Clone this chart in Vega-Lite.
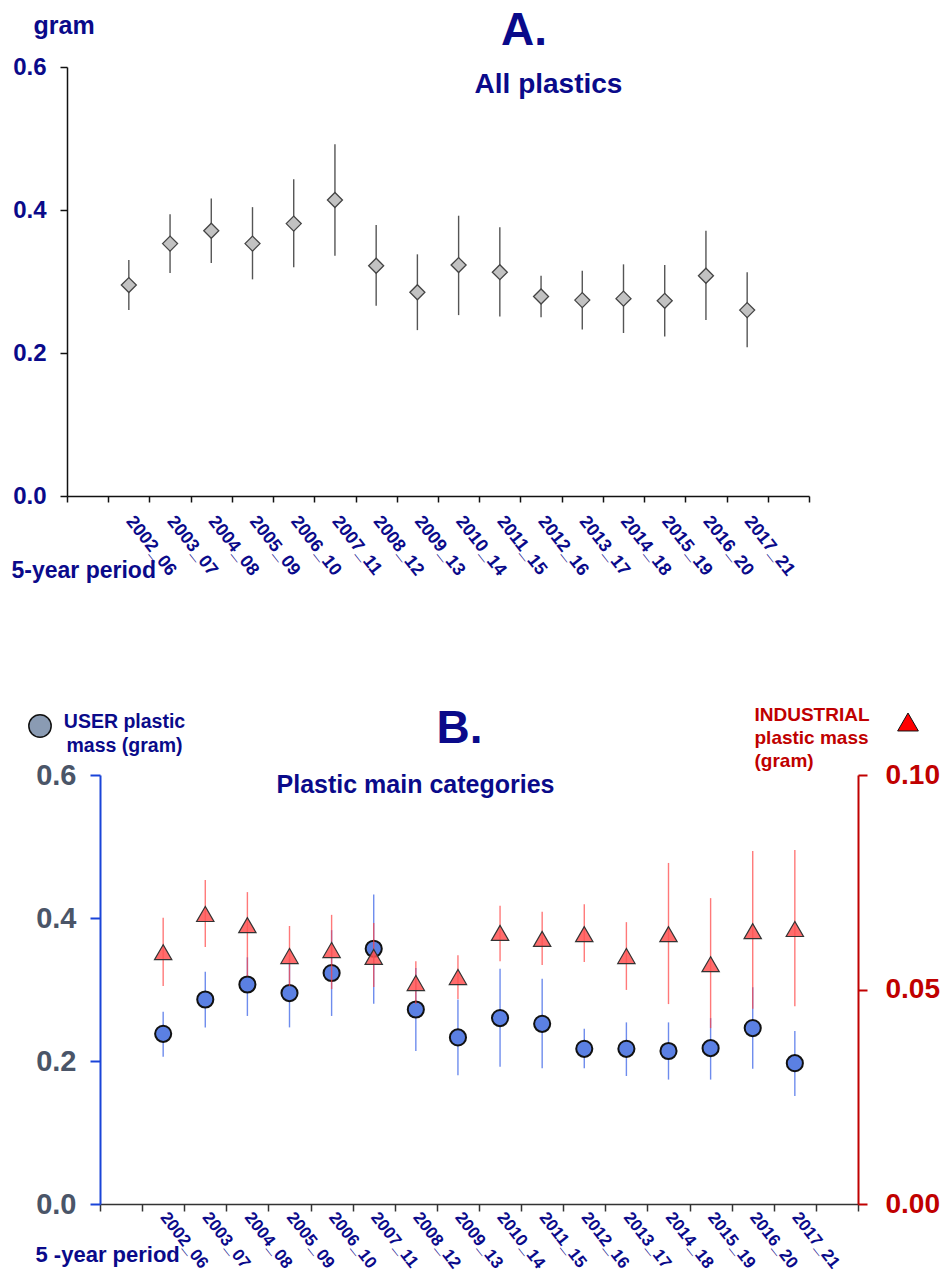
{
  "$schema": "https://vega.github.io/schema/vega-lite/v6.json",
  "padding": {"left": 11, "top": 8, "right": 5, "bottom": 5},
  "background": "white",
  "spacing": 123,
  "datasets": {
    "all": [
      {"period": "2002_06", "mean": 0.295, "lo": 0.260, "hi": 0.330},
      {"period": "2003_07", "mean": 0.353, "lo": 0.312, "hi": 0.394},
      {"period": "2004_08", "mean": 0.371, "lo": 0.326, "hi": 0.416},
      {"period": "2005_09", "mean": 0.353, "lo": 0.303, "hi": 0.404},
      {"period": "2006_10", "mean": 0.381, "lo": 0.320, "hi": 0.443},
      {"period": "2007_11", "mean": 0.414, "lo": 0.336, "hi": 0.492},
      {"period": "2008_12", "mean": 0.322, "lo": 0.266, "hi": 0.379},
      {"period": "2009_13", "mean": 0.285, "lo": 0.232, "hi": 0.338},
      {"period": "2010_14", "mean": 0.323, "lo": 0.253, "hi": 0.392},
      {"period": "2011_15", "mean": 0.313, "lo": 0.251, "hi": 0.376},
      {"period": "2012_16", "mean": 0.279, "lo": 0.250, "hi": 0.308},
      {"period": "2013_17", "mean": 0.274, "lo": 0.233, "hi": 0.315},
      {"period": "2014_18", "mean": 0.276, "lo": 0.228, "hi": 0.324},
      {"period": "2015_19", "mean": 0.273, "lo": 0.223, "hi": 0.323},
      {"period": "2016_20", "mean": 0.308, "lo": 0.246, "hi": 0.371},
      {"period": "2017_21", "mean": 0.260, "lo": 0.208, "hi": 0.313}
    ],
    "cats": [
      {"period": "2002_06", "user": 0.238, "user_lo": 0.206, "user_hi": 0.269, "ind": 0.0587, "ind_lo": 0.0508, "ind_hi": 0.0667},
      {"period": "2003_07", "user": 0.286, "user_lo": 0.247, "user_hi": 0.325, "ind": 0.0676, "ind_lo": 0.0599, "ind_hi": 0.0755},
      {"period": "2004_08", "user": 0.307, "user_lo": 0.263, "user_hi": 0.345, "ind": 0.0650, "ind_lo": 0.0531, "ind_hi": 0.0727},
      {"period": "2005_09", "user": 0.295, "user_lo": 0.247, "user_hi": 0.343, "ind": 0.0578, "ind_lo": 0.0508, "ind_hi": 0.0648},
      {"period": "2006_10", "user": 0.323, "user_lo": 0.263, "user_hi": 0.383, "ind": 0.0592, "ind_lo": 0.0501, "ind_hi": 0.0674},
      {"period": "2007_11", "user": 0.357, "user_lo": 0.280, "user_hi": 0.433, "ind": 0.0576, "ind_lo": 0.0506, "ind_hi": 0.0655},
      {"period": "2008_12", "user": 0.272, "user_lo": 0.214, "user_hi": 0.330, "ind": 0.0515, "ind_lo": 0.0466, "ind_hi": 0.0566},
      {"period": "2009_13", "user": 0.233, "user_lo": 0.180, "user_hi": 0.286, "ind": 0.0529, "ind_lo": 0.0478, "ind_hi": 0.0580},
      {"period": "2010_14", "user": 0.260, "user_lo": 0.192, "user_hi": 0.329, "ind": 0.0632, "ind_lo": 0.0566, "ind_hi": 0.0695},
      {"period": "2011_15", "user": 0.252, "user_lo": 0.190, "user_hi": 0.315, "ind": 0.0618, "ind_lo": 0.0557, "ind_hi": 0.0681},
      {"period": "2012_16", "user": 0.217, "user_lo": 0.190, "user_hi": 0.245, "ind": 0.0629, "ind_lo": 0.0564, "ind_hi": 0.0699},
      {"period": "2013_17", "user": 0.217, "user_lo": 0.179, "user_hi": 0.254, "ind": 0.0578, "ind_lo": 0.0499, "ind_hi": 0.0657},
      {"period": "2014_18", "user": 0.214, "user_lo": 0.174, "user_hi": 0.254, "ind": 0.0629, "ind_lo": 0.0466, "ind_hi": 0.0795},
      {"period": "2015_19", "user": 0.218, "user_lo": 0.174, "user_hi": 0.260, "ind": 0.0559, "ind_lo": 0.0410, "ind_hi": 0.0713},
      {"period": "2016_20", "user": 0.246, "user_lo": 0.189, "user_hi": 0.303, "ind": 0.0636, "ind_lo": 0.0455, "ind_hi": 0.0823},
      {"period": "2017_21", "user": 0.197, "user_lo": 0.151, "user_hi": 0.242, "ind": 0.0641, "ind_lo": 0.0461, "ind_hi": 0.0825}
    ]
  },
  "vconcat": [
    {
      "width": 742,
      "height": 429,
      "title": {"text": "A.", "fontSize": 46, "color": "#0a0a8a", "anchor": "middle", "frame": "group", "dx": 86, "offset": -42},
      "data": {"name": "all"},
      "layer": [
        {
          "mark": {"type": "rule", "color": "#555555", "strokeWidth": 1.4},
          "encoding": {
            "x": {"field": "period", "type": "nominal",
              "scale": {"type": "band", "paddingInner": 0, "paddingOuter": 0, "domain": ["", "2002_06", "2003_07", "2004_08", "2005_09", "2006_10", "2007_11", "2008_12", "2009_13", "2010_14", "2011_15", "2012_16", "2013_17", "2014_18", "2015_19", "2016_20", "2017_21", " "]},
              "axis": {"tickBand": "extent", "labelAngle": 52, "labelColor": "#0a0a8a", "labelFontSize": 18, "labelPadding": 16, "tickSize": 6, "tickColor": "#111", "domainColor": "#111", "domainWidth": 1.5, "tickWidth": 1.5,
                "title": "5-year period", "titleX": -56, "titleY": 74, "titleAlign": "left", "titleBaseline": "middle", "titleFontSize": 23, "titleColor": "#0a0a8a"}},
            "y": {"field": "lo", "type": "quantitative", "scale": {"domain": [0, 0.6], "nice": false},
              "axis": {"values": [0, 0.2, 0.4, 0.6], "format": ".1f", "labelFontSize": 24, "labelColor": "#0a0a8a", "labelPadding": 14, "tickSize": 7, "tickColor": "#111", "domainColor": "#111", "domainWidth": 1.5, "tickWidth": 1.5,
                "title": "gram", "titleAngle": 0, "titleAlign": "left", "titleBaseline": "middle", "titleX": -34, "titleY": -42, "titleFontSize": 25, "titleColor": "#0a0a8a"}},
            "y2": {"field": "hi"}
          }
        },
        {
          "mark": {"type": "point", "shape": "diamond", "filled": true, "fill": "#c2c2c2", "stroke": "#444444", "strokeWidth": 1.3, "size": 225, "opacity": 1},
          "encoding": {
            "x": {"field": "period", "type": "nominal",
              "scale": {"type": "band", "paddingInner": 0, "paddingOuter": 0, "domain": ["", "2002_06", "2003_07", "2004_08", "2005_09", "2006_10", "2007_11", "2008_12", "2009_13", "2010_14", "2011_15", "2012_16", "2013_17", "2014_18", "2015_19", "2016_20", "2017_21", " "]},
              "axis": {"orient": "top", "domain": false, "ticks": false, "labels": false, "title": "All plastics", "titleX": 481, "titleY": 17, "titleAlign": "center", "titleBaseline": "middle", "titleFontSize": 28, "titleColor": "#0a0a8a"}},
            "y": {"field": "mean", "type": "quantitative", "scale": {"domain": [0, 0.6], "nice": false},
              "axis": {"values": [0, 0.2, 0.4, 0.6], "format": ".1f", "labelFontSize": 24, "labelColor": "#0a0a8a", "labelPadding": 14, "tickSize": 7, "tickColor": "#111", "domainColor": "#111", "domainWidth": 1.5, "tickWidth": 1.5,
                "title": "gram", "titleAngle": 0, "titleAlign": "left", "titleBaseline": "middle", "titleX": -34, "titleY": -42, "titleFontSize": 25, "titleColor": "#0a0a8a"}}
          }
        }
      ],
      "resolve": {"axis": {"x": "independent"}}
    },
    {
      "width": 791,
      "height": 429,
      "title": {"text": "B.", "fontSize": 46, "color": "#0a0a8a", "anchor": "middle", "frame": "group", "dx": -3, "offset": -48},
      "data": {"name": "cats"},
      "layer": [
        {
          "layer": [
            {
              "mark": {"type": "rule", "color": "#4a6fe8", "strokeWidth": 1.4, "opacity": 0.8},
              "encoding": {
                "x": {"field": "period", "type": "nominal",
                  "scale": {"type": "band", "paddingInner": 0, "paddingOuter": 0, "range": [33, 791], "domain": ["", "2002_06", "2003_07", "2004_08", "2005_09", "2006_10", "2007_11", "2008_12", "2009_13", "2010_14", "2011_15", "2012_16", "2013_17", "2014_18", "2015_19", "2016_20", "2017_21", " "]},
                  "axis": {"tickBand": "extent", "labelAngle": 52, "labelColor": "#0a0a8a", "labelFontSize": 17, "labelPadding": 3, "tickSize": 7, "tickColor": "#333", "domainColor": "#333", "domainWidth": 1.5, "tickWidth": 1.5,
                    "title": "5 -year period", "titleX": -32, "titleY": 50, "titleAlign": "left", "titleBaseline": "middle", "titleFontSize": 22, "titleColor": "#0a0a8a"}},
                "y": {"field": "user_lo", "type": "quantitative", "scale": {"domain": [0, 0.6], "nice": false},
                  "axis": {"orient": "left", "offset": -33, "values": [0, 0.2, 0.4, 0.6], "format": ".1f", "labelFontSize": 29, "labelColor": "#4a5568", "labelPadding": 14, "tickSize": 10, "tickColor": "#1a44d8", "domainColor": "#1a44d8", "domainWidth": 2, "tickWidth": 2,
                    "title": ["USER plastic", "mass (gram)"], "titleAngle": 0, "titleAlign": "center", "titleBaseline": "alphabetic", "titleLineHeight": 24, "titleX": 24, "titleY": -48, "titleFontSize": 19.5, "titleColor": "#0a0a8a"}},
                "y2": {"field": "user_hi"}
              }
            },
            {
              "mark": {"type": "point", "filled": true, "fill": "#8a9bb3", "stroke": "#111111", "strokeWidth": 2, "size": 260, "opacity": 0},
              "encoding": {
                "x": {"field": "period", "type": "nominal",
                  "scale": {"type": "band", "paddingInner": 0, "paddingOuter": 0, "range": [33, 791], "domain": ["", "2002_06", "2003_07", "2004_08", "2005_09", "2006_10", "2007_11", "2008_12", "2009_13", "2010_14", "2011_15", "2012_16", "2013_17", "2014_18", "2015_19", "2016_20", "2017_21", " "]},
                  "axis": {"tickBand": "extent", "labelAngle": 52, "labelColor": "#0a0a8a", "labelFontSize": 17, "labelPadding": 3, "tickSize": 7, "tickColor": "#333", "domainColor": "#333", "domainWidth": 1.5, "tickWidth": 1.5,
                    "title": "5 -year period", "titleX": -32, "titleY": 50, "titleAlign": "left", "titleBaseline": "middle", "titleFontSize": 22, "titleColor": "#0a0a8a"}},
                "y": {"field": "user", "type": "quantitative", "scale": {"domain": [0, 0.6], "nice": false},
                  "axis": {"orient": "left", "offset": -33, "values": [0, 0.2, 0.4, 0.6], "format": ".1f", "labelFontSize": 29, "labelColor": "#4a5568", "labelPadding": 14, "tickSize": 10, "tickColor": "#1a44d8", "domainColor": "#1a44d8", "domainWidth": 2, "tickWidth": 2,
                    "title": ["USER plastic", "mass (gram)"], "titleAngle": 0, "titleAlign": "center", "titleBaseline": "alphabetic", "titleLineHeight": 24, "titleX": 24, "titleY": -48, "titleFontSize": 19.5, "titleColor": "#0a0a8a"}},
                "shape": {"datum": "USER", "type": "nominal", "scale": {"range": ["circle"]},
                  "legend": {"orient": "none", "legendX": -39, "legendY": -61, "title": null, "labelExpr": "''", "padding": 0, "symbolSize": 500, "symbolOpacity": 1,
                    "encode": {"symbols": {"update": {"opacity": {"value": 1}}}}}}
              }
            },
            {
              "mark": {"type": "point", "filled": true, "fill": "#5b80e3", "stroke": "#111111", "strokeWidth": 2, "size": 260, "opacity": 1},
              "encoding": {
                "x": {"field": "period", "type": "nominal",
                  "scale": {"type": "band", "paddingInner": 0, "paddingOuter": 0, "range": [33, 791], "domain": ["", "2002_06", "2003_07", "2004_08", "2005_09", "2006_10", "2007_11", "2008_12", "2009_13", "2010_14", "2011_15", "2012_16", "2013_17", "2014_18", "2015_19", "2016_20", "2017_21", " "]},
                  "axis": {"tickBand": "extent", "labelAngle": 52, "labelColor": "#0a0a8a", "labelFontSize": 17, "labelPadding": 3, "tickSize": 7, "tickColor": "#333", "domainColor": "#333", "domainWidth": 1.5, "tickWidth": 1.5,
                    "title": "5 -year period", "titleX": -32, "titleY": 50, "titleAlign": "left", "titleBaseline": "middle", "titleFontSize": 22, "titleColor": "#0a0a8a"}},
                "y": {"field": "user", "type": "quantitative", "scale": {"domain": [0, 0.6], "nice": false},
                  "axis": {"orient": "left", "offset": -33, "values": [0, 0.2, 0.4, 0.6], "format": ".1f", "labelFontSize": 29, "labelColor": "#4a5568", "labelPadding": 14, "tickSize": 10, "tickColor": "#1a44d8", "domainColor": "#1a44d8", "domainWidth": 2, "tickWidth": 2,
                    "title": ["USER plastic", "mass (gram)"], "titleAngle": 0, "titleAlign": "center", "titleBaseline": "alphabetic", "titleLineHeight": 24, "titleX": 24, "titleY": -48, "titleFontSize": 19.5, "titleColor": "#0a0a8a"}}
              }
            }
          ]
        },
        {
          "layer": [
            {
              "mark": {"type": "rule", "color": "#ff4040", "strokeWidth": 1.4, "opacity": 0.7},
              "encoding": {
                "x": {"field": "period", "type": "nominal",
                  "scale": {"type": "band", "paddingInner": 0, "paddingOuter": 0, "range": [33, 791], "domain": ["", "2002_06", "2003_07", "2004_08", "2005_09", "2006_10", "2007_11", "2008_12", "2009_13", "2010_14", "2011_15", "2012_16", "2013_17", "2014_18", "2015_19", "2016_20", "2017_21", " "]},
                  "axis": {"orient": "top", "domain": false, "ticks": false, "labels": false, "title": "Plastic main categories", "titleX": 348, "titleY": 9, "titleAlign": "center", "titleBaseline": "middle", "titleFontSize": 25, "titleColor": "#0a0a8a"}},
                "y": {"field": "ind_lo", "type": "quantitative", "scale": {"domain": [0, 0.1], "nice": false},
                  "axis": {"orient": "right", "values": [0, 0.05, 0.1], "format": ".2f", "labelFontSize": 28, "labelColor": "#c00000", "labelPadding": 18, "tickSize": 9, "tickColor": "#c00000", "domainColor": "#c00000", "domainWidth": 2, "tickWidth": 2,
                    "title": ["INDUSTRIAL", "plastic mass", "(gram)"], "titleAngle": 0, "titleAlign": "left", "titleBaseline": "alphabetic", "titleLineHeight": 23, "titleX": -104, "titleY": -55, "titleFontSize": 19, "titleColor": "#c00000"}},
                "y2": {"field": "ind_hi"}
              }
            },
            {
              "mark": {"type": "point", "shape": "triangle-up", "filled": true, "fill": "#ff0000", "stroke": "#111111", "strokeWidth": 1.5, "size": 300, "opacity": 0},
              "encoding": {
                "x": {"field": "period", "type": "nominal",
                  "scale": {"type": "band", "paddingInner": 0, "paddingOuter": 0, "range": [33, 791], "domain": ["", "2002_06", "2003_07", "2004_08", "2005_09", "2006_10", "2007_11", "2008_12", "2009_13", "2010_14", "2011_15", "2012_16", "2013_17", "2014_18", "2015_19", "2016_20", "2017_21", " "]},
                  "axis": {"orient": "top", "domain": false, "ticks": false, "labels": false, "title": "Plastic main categories", "titleX": 348, "titleY": 9, "titleAlign": "center", "titleBaseline": "middle", "titleFontSize": 25, "titleColor": "#0a0a8a"}},
                "y": {"field": "ind", "type": "quantitative", "scale": {"domain": [0, 0.1], "nice": false},
                  "axis": {"orient": "right", "values": [0, 0.05, 0.1], "format": ".2f", "labelFontSize": 28, "labelColor": "#c00000", "labelPadding": 18, "tickSize": 9, "tickColor": "#c00000", "domainColor": "#c00000", "domainWidth": 2, "tickWidth": 2,
                    "title": ["INDUSTRIAL", "plastic mass", "(gram)"], "titleAngle": 0, "titleAlign": "left", "titleBaseline": "alphabetic", "titleLineHeight": 23, "titleX": -104, "titleY": -55, "titleFontSize": 19, "titleColor": "#c00000"}},
                "strokeWidth": {"datum": "INDUSTRIAL", "type": "ordinal", "scale": {"range": [1.5]},
                  "legend": {"orient": "none", "legendX": 841, "legendY": -53, "title": null, "labelExpr": "''", "padding": 0, "symbolType": "triangle-up", "symbolSize": 430, "symbolOpacity": 1,
                    "encode": {"symbols": {"update": {"opacity": {"value": 1}}}}}}
              }
            },
            {
              "mark": {"type": "point", "shape": "triangle-up", "filled": true, "fill": "#ff5252", "fillOpacity": 0.85, "stroke": "#333333", "strokeWidth": 1.2, "size": 300},
              "encoding": {
                "x": {"field": "period", "type": "nominal",
                  "scale": {"type": "band", "paddingInner": 0, "paddingOuter": 0, "range": [33, 791], "domain": ["", "2002_06", "2003_07", "2004_08", "2005_09", "2006_10", "2007_11", "2008_12", "2009_13", "2010_14", "2011_15", "2012_16", "2013_17", "2014_18", "2015_19", "2016_20", "2017_21", " "]},
                  "axis": {"orient": "top", "domain": false, "ticks": false, "labels": false, "title": "Plastic main categories", "titleX": 348, "titleY": 9, "titleAlign": "center", "titleBaseline": "middle", "titleFontSize": 25, "titleColor": "#0a0a8a"}},
                "y": {"field": "ind", "type": "quantitative", "scale": {"domain": [0, 0.1], "nice": false},
                  "axis": {"orient": "right", "values": [0, 0.05, 0.1], "format": ".2f", "labelFontSize": 28, "labelColor": "#c00000", "labelPadding": 18, "tickSize": 9, "tickColor": "#c00000", "domainColor": "#c00000", "domainWidth": 2, "tickWidth": 2,
                    "title": ["INDUSTRIAL", "plastic mass", "(gram)"], "titleAngle": 0, "titleAlign": "left", "titleBaseline": "alphabetic", "titleLineHeight": 23, "titleX": -104, "titleY": -55, "titleFontSize": 19, "titleColor": "#c00000"}}
              }
            }
          ]
        }
      ],
      "resolve": {"scale": {"y": "independent"}, "axis": {"x": "independent", "y": "independent"}}
    }
  ],
  "resolve": {"scale": {"shape": "independent", "strokeWidth": "independent"}, "legend": {"shape": "independent", "strokeWidth": "independent"}},
  "config": {
    "view": {"stroke": null},
    "font": "Liberation Sans",
    "axis": {"labelFontWeight": "bold", "titleFontWeight": "bold", "grid": false, "labelFont": "Liberation Sans", "titleFont": "Liberation Sans"},
    "title": {"fontWeight": "bold", "font": "Liberation Sans"}
  }
}
